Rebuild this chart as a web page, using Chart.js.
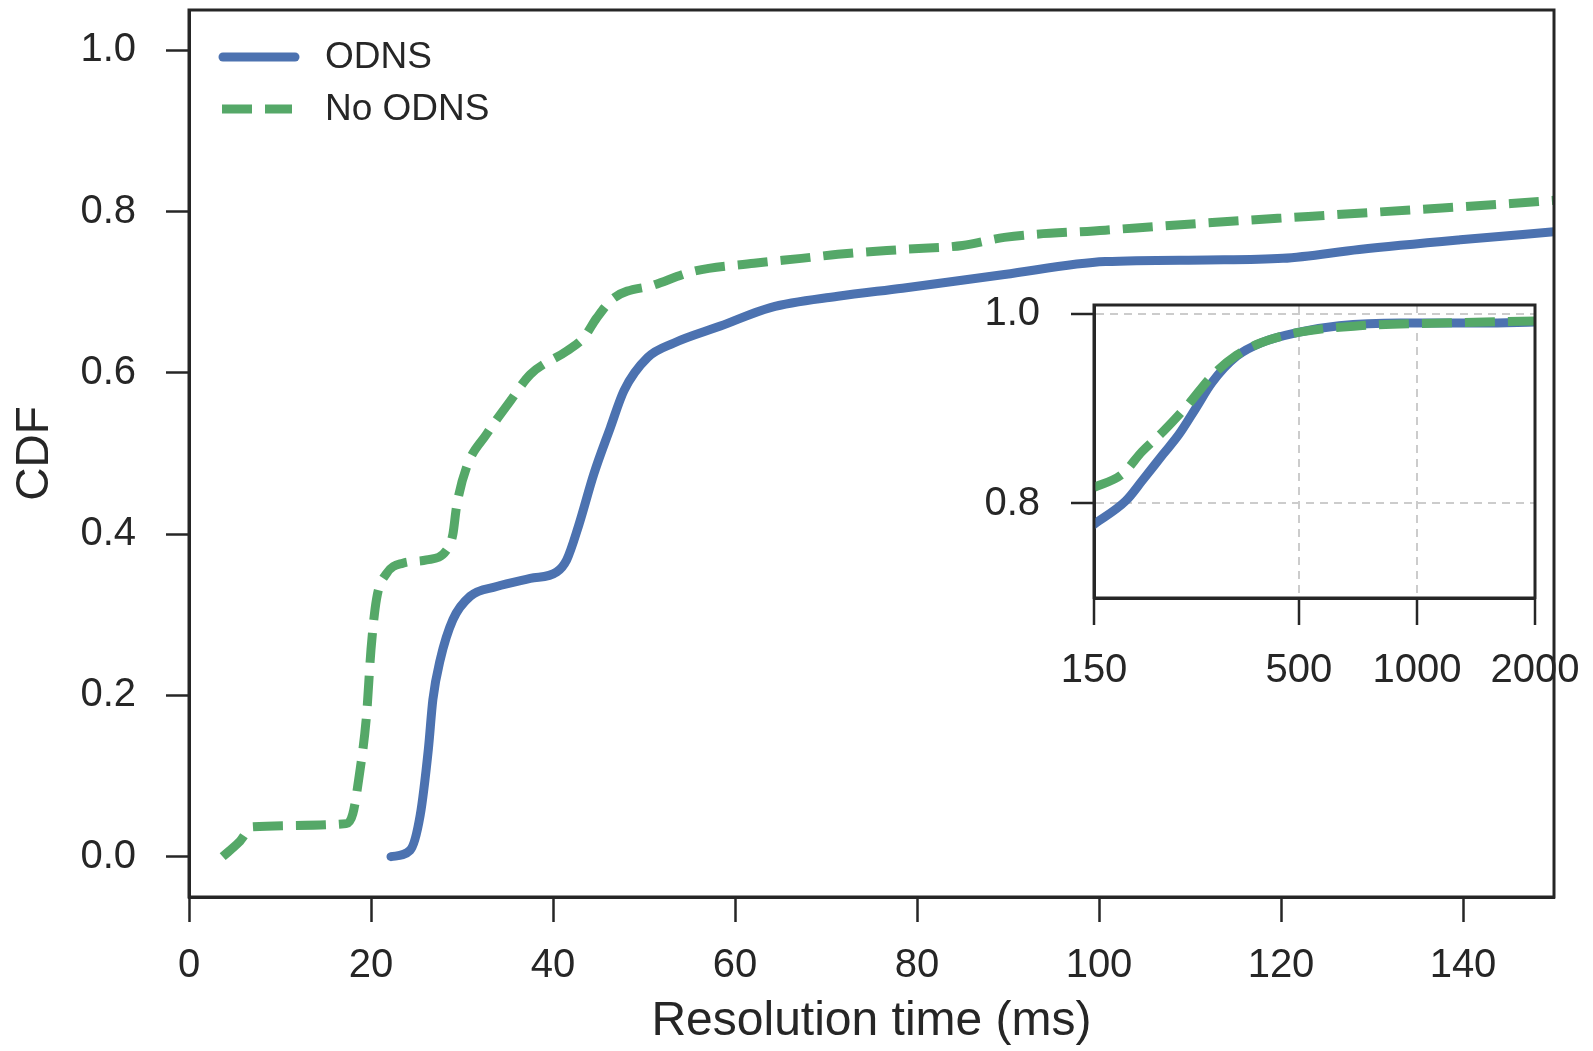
<!DOCTYPE html>
<html>
<head>
<meta charset="utf-8">
<script src="https://cdn.jsdelivr.net/npm/chart.js@4.4.1/dist/chart.umd.min.js"></script>
<style>
  html, body { margin: 0; padding: 0; background: #ffffff; }
  #wrap { position: relative; width: 1593px; height: 1051px; }
  #main { position: absolute; left: 0; top: 0; }
  #insetBox { position: absolute; left: 980px; top: 290px; width: 600px; height: 400px; }
</style>
</head>
<body>
<div id="wrap">
  <canvas id="main" width="1593" height="1051"></canvas>
  <div id="insetBox"><canvas id="inset" width="600" height="400"></canvas></div>
</div>
<script>
// ---------- data ----------
const seriesLabels = ['ODNS', 'No ODNS'];

// main panel (0-150 ms)
const odnsX   = [22.2, 24.3, 25.4, 26.3, 26.8, 27.6, 29.0, 30.9, 33.8, 37.5, 40.4, 41.5, 42.8, 44.5, 46.3, 47.8, 50.4, 53.3, 58.4, 63.9, 71.3, 78.4, 89.6, 100.7, 111.9, 120.2, 128.6, 139.7, 150];
const odnsY   = [0.0, 0.008, 0.051, 0.133, 0.195, 0.244, 0.294, 0.323, 0.335, 0.345, 0.353, 0.368, 0.41, 0.475, 0.532, 0.578, 0.619, 0.637, 0.658, 0.681, 0.695, 0.705, 0.722, 0.738, 0.740, 0.742, 0.753, 0.765, 0.775];
const noOdnsX = [3.7, 5.5, 7.0, 17.3, 18.0, 18.7, 19.5, 20.0, 20.6, 21.7, 23.5, 26.1, 28.3, 29.0, 29.4, 30.5, 32.7, 35.3, 37.5, 41.5, 43.4, 44.8, 46.7, 51.1, 55.5, 62.1, 67.3, 71.3, 78.4, 85.0, 89.6, 100.7, 111.9, 123.0, 134.2, 145.3, 150];
const noOdnsY = [0.0, 0.018, 0.037, 0.041, 0.053, 0.10, 0.174, 0.257, 0.319, 0.351, 0.364, 0.368, 0.38, 0.40, 0.434, 0.483, 0.524, 0.565, 0.598, 0.627, 0.644, 0.668, 0.693, 0.709, 0.726, 0.736, 0.742, 0.747, 0.753, 0.758, 0.768, 0.777, 0.786, 0.794, 0.802, 0.81, 0.814];
const mainXTicks = [0, 20, 40, 60, 80, 100, 120, 140];
const mainYTicks = [0.0, 0.2, 0.4, 0.6, 0.8, 1.0];

// inset panel (150-2000 ms, log x)
const insetOdnsX   = [150, 181, 199, 225, 247, 272, 300, 347, 400, 497, 633, 908, 1471, 2000];
const insetOdnsY   = [0.778, 0.803, 0.824, 0.852, 0.873, 0.90, 0.928, 0.956, 0.970, 0.981, 0.988, 0.991, 0.991, 0.992];
const insetNoOdnsX = [150, 177, 199, 225, 260, 300, 347, 400, 497, 713, 1157, 2000];
const insetNoOdnsY = [0.817, 0.831, 0.855, 0.876, 0.904, 0.935, 0.957, 0.970, 0.981, 0.988, 0.991, 0.993];
const insetXTicks = [150, 500, 1000, 2000];
const insetYTicks = [0.8, 1.0];

// ---------- styles ----------
const FONT = "'Liberation Sans', Arial, sans-serif";
const INK = '#262626';
const BLUE = '#4C72B0';
const GREEN = '#55A868';
const LW = 9;
const DASH = [30, 13];

const pts = (xs, ys) => xs.map((x, i) => ({ x: x, y: ys[i] }));

const framePlugin = {
  id: 'frame',
  beforeDraw(chart) {
    const a = chart.chartArea, ctx = chart.ctx;
    ctx.save();
    ctx.fillStyle = '#ffffff';
    ctx.fillRect(a.left, a.top, a.right - a.left, a.bottom - a.top);
    ctx.restore();
  },
  afterDraw(chart) {
    const a = chart.chartArea, ctx = chart.ctx;
    ctx.save();
    ctx.strokeStyle = INK;
    ctx.lineWidth = 3;
    ctx.strokeRect(a.left, a.top, a.right - a.left, a.bottom - a.top);
    ctx.restore();
  }
};

const legendPlugin = {
  id: 'customLegend',
  afterDraw(chart, args, opts) {
    if (!opts || !opts.show) return;
    const a = chart.chartArea, ctx = chart.ctx;
    chart.data.datasets.forEach((ds, i) => {
      const y = a.top + 47 + i * 52;
      ctx.save();
      ctx.strokeStyle = ds.borderColor;
      ctx.lineWidth = ds.borderWidth;
      ctx.lineCap = ds.borderCapStyle || 'butt';
      ctx.setLineDash(ds.borderDash || []);
      ctx.beginPath();
      if (ds.borderDash && ds.borderDash.length) {
        ctx.moveTo(a.left + 33, y);
        ctx.lineTo(a.left + 103, y);
      } else {
        ctx.moveTo(a.left + 34, y);
        ctx.lineTo(a.left + 106, y);
      }
      ctx.stroke();
      ctx.setLineDash([]);
      ctx.fillStyle = INK;
      ctx.font = '37px ' + FONT;
      ctx.textBaseline = 'middle';
      ctx.textAlign = 'left';
      ctx.fillText(ds.label, a.left + 136, y + 1);
      ctx.restore();
    });
  }
};

function lineDataset(label, data, color, dashed) {
  return {
    label: label,
    data: data,
    order: dashed ? 0 : 1,
    borderColor: color,
    backgroundColor: color,
    borderWidth: LW,
    borderDash: dashed ? DASH : [],
    borderCapStyle: dashed ? 'butt' : 'round',
    borderJoinStyle: 'round',
    pointRadius: 0,
    pointHoverRadius: 0,
    fill: false,
    cubicInterpolationMode: 'monotone'
  };
}

function fitX(h) {
  return s => { s.height = h; s.paddingLeft = 0; s.paddingRight = 0; s.paddingTop = 0; s.paddingBottom = 0; };
}
function fitY(w) {
  return s => { s.width = w; s.paddingLeft = 0; s.paddingRight = 0; s.paddingTop = 0; s.paddingBottom = 0; };
}

// ---------- main chart ----------
new Chart(document.getElementById('main'), {
  type: 'line',
  data: {
    datasets: [
      lineDataset(seriesLabels[0], pts(odnsX, odnsY), BLUE, false),
      lineDataset(seriesLabels[1], pts(noOdnsX, noOdnsY), GREEN, true)
    ]
  },
  options: {
    responsive: false,
    animation: false,
    devicePixelRatio: 1,
    layout: { padding: { top: 10, right: 39, left: 0, bottom: 0 } },
    plugins: {
      legend: { display: false },
      tooltip: { enabled: false },
      customLegend: { show: true }
    },
    scales: {
      x: {
        type: 'linear',
        min: 0, max: 150,
        afterBuildTicks: s => { s.ticks = mainXTicks.map(v => ({ value: v })); },
        afterFit: fitX(154),
        ticks: { color: INK, font: { family: FONT, size: 40 }, padding: 20, maxRotation: 0, callback: v => String(v) },
        grid: { drawOnChartArea: false, drawTicks: true, tickLength: 25, tickWidth: 2.5, tickColor: INK },
        border: { display: true, color: INK, width: 3 },
        title: { display: true, text: 'Resolution time (ms)', color: INK, font: { family: FONT, size: 48 }, padding: { top: 0, bottom: 0 } }
      },
      y: {
        type: 'linear',
        min: -0.05, max: 1.05,
        afterBuildTicks: s => { s.ticks = mainYTicks.map(v => ({ value: v })); },
        afterFit: fitY(189),
        ticks: { color: INK, font: { family: FONT, size: 40 }, padding: 30, callback: v => Number(v).toFixed(1) },
        grid: { drawOnChartArea: false, drawTicks: true, tickLength: 23, tickWidth: 2.5, tickColor: INK },
        border: { display: true, color: INK, width: 3 },
        title: { display: true, text: 'CDF', color: INK, font: { family: FONT, size: 46 }, padding: { top: 8, bottom: 0 } }
      }
    }
  },
  plugins: [framePlugin, legendPlugin]
});

// ---------- inset chart ----------
new Chart(document.getElementById('inset'), {
  type: 'line',
  data: {
    datasets: [
      lineDataset(seriesLabels[0], pts(insetOdnsX, insetOdnsY), BLUE, false),
      lineDataset(seriesLabels[1], pts(insetNoOdnsX, insetNoOdnsY), GREEN, true)
    ]
  },
  options: {
    responsive: false,
    animation: false,
    devicePixelRatio: 1,
    layout: { padding: { top: 15, right: 45, left: 0, bottom: 0 } },
    plugins: {
      legend: { display: false },
      tooltip: { enabled: false },
      customLegend: { show: false }
    },
    scales: {
      x: {
        type: 'logarithmic',
        min: 150, max: 2000,
        afterBuildTicks: s => { s.ticks = insetXTicks.map(v => ({ value: v })); },
        afterFit: fitX(92),
        ticks: { color: INK, font: { family: FONT, size: 40 }, padding: 22, maxRotation: 0, autoSkip: false, callback: v => String(v) },
        grid: { drawOnChartArea: true, drawTicks: true, color: '#cccccc', lineWidth: 2, tickLength: 27, tickWidth: 2.5, tickColor: INK },
        border: { display: true, color: INK, width: 3, dash: [8, 6] }
      },
      y: {
        type: 'linear',
        min: 0.7, max: 1.01,
        afterBuildTicks: s => { s.ticks = insetYTicks.map(v => ({ value: v })); },
        afterFit: fitY(114),
        ticks: { color: INK, font: { family: FONT, size: 40 }, padding: 31, callback: v => Number(v).toFixed(1) },
        grid: { drawOnChartArea: true, drawTicks: true, color: '#cccccc', lineWidth: 2, tickLength: 23, tickWidth: 2.5, tickColor: INK },
        border: { display: true, color: INK, width: 3, dash: [8, 6] }
      }
    }
  },
  plugins: [framePlugin, legendPlugin]
});
</script>
</body>
</html>
